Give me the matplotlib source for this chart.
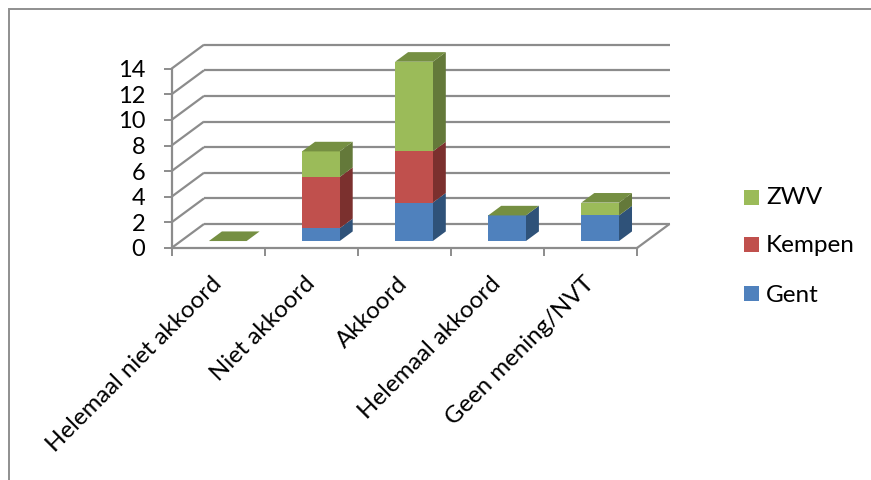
import matplotlib
matplotlib.use("Agg")
import matplotlib.pyplot as plt
from matplotlib.patches import Polygon, Rectangle
from matplotlib.transforms import ScaledTranslation

categories = ["Helemaal niet akkoord", "Niet akkoord", "Akkoord", "Helemaal akkoord", "Geen mening/NVT"]
gent = [0, 1, 3, 2, 2]
kempen = [0, 4, 4, 0, 0]
zwv = [0, 2, 7, 0, 1]
series_names = ["Gent", "Kempen", "ZWV"]
y_ticks = [0, 2, 4, 6, 8, 10, 12, 14]

W, H = 871, 480
X0, X1, Y0, Y14 = 171.5, 637.0, 248.0, 68.7

plt.rcParams["font.family"] = ["Lato", "DejaVu Sans"]
fig = plt.figure(figsize=(W / 100, H / 100), dpi=100)
ax = fig.add_axes([X0 / W, 1 - Y0 / H, (X1 - X0) / W, (Y0 - Y14) / H])
ax.set_xlim(0, 5)
ax.set_ylim(0, 14)
ax.patch.set_visible(False)

GRID = "#8c8c8c"
# oblique projection: full floor depth expressed in data units
DEPTH_X = 32.5 / ((X1 - X0) / 5)
DEPTH_Y = 24.0 / ((Y0 - Y14) / 14)


def proj(x, y, d):
    return (x + DEPTH_X * d, y + DEPTH_Y * d)


def line(p, q):
    ax.plot([p[0], q[0]], [p[1], q[1]], color=GRID, lw=1.6, clip_on=False,
            solid_capstyle="butt", zorder=1)


# back wall gridlines with their slanted returns on the side wall
for v in y_ticks:
    line(proj(0, v, 0), proj(0, v, 1))
    line(proj(0, v, 1), proj(5, v, 1))
line(proj(5, 0, 0), proj(5, 0, 1))

FRONT = {"Gent": "#4f81bd", "Kempen": "#c0504d", "ZWV": "#9bbb59"}
SIDE = {"Gent": "#2f5279", "Kempen": "#7b302e", "ZWV": "#64793a"}
TOP = "#758f42"
BAR_W = 0.405
D0, D1 = 0.29, 0.69


def add_face(points, color, z):
    ax.add_patch(Polygon(points, closed=True, facecolor=color, edgecolor="none",
                         clip_on=False, zorder=z))


for i in range(len(categories)):
    left = i + 0.5 - BAR_W / 2 + 0.003
    right = i + 0.5 + BAR_W / 2 + 0.003
    base = 0
    for name, values in zip(series_names, (gent, kempen, zwv)):
        top = base + values[i]
        if values[i] > 0:
            add_face([proj(left, base, D0), proj(right, base, D0),
                      proj(right, top, D0), proj(left, top, D0)], FRONT[name], 4)
            add_face([proj(right, base, D0), proj(right, base, D1),
                      proj(right, top, D1), proj(right, top, D0)], SIDE[name], 3)
        base = top
    # the cap takes the colour of the last series, also for an empty stack
    add_face([proj(left, base, D0), proj(right, base, D0),
              proj(right, base, D1), proj(left, base, D1)], TOP, 5)

# axes, ticks and labels
for side in ("top", "right"):
    ax.spines[side].set_visible(False)
for side in ("left", "bottom"):
    ax.spines[side].set_color(GRID)
    ax.spines[side].set_linewidth(1.6)
ax.set_yticks(y_ticks)
ax.set_xticks(range(6))
ax.set_xticklabels([])
ax.set_xticks([i + 0.5 for i in range(5)], minor=True)
ax.set_xticklabels(categories, minor=True, rotation=45, ha="right", va="top",
                   rotation_mode="anchor", fontsize=17.3, color="black")
ax.tick_params(axis="x", which="major", length=6, width=1.4, color=GRID)
ax.tick_params(axis="x", which="minor", length=0, pad=17.8)
ax.tick_params(axis="y", length=6, width=1.4, color=GRID, labelsize=17, pad=13)

nudge = ScaledTranslation(-7 / 100, 0, fig.dpi_scale_trans)
for label in ax.get_xticklabels(minor=True):
    label.set_transform(label.get_transform() + nudge)

# legend, listed top-down in reverse stacking order
for name, sy, ty in zip(("ZWV", "Kempen", "Gent"), (197.5, 245, 293.5), (198, 246, 295)):
    fig.add_artist(Rectangle((744 / W, 1 - (sy + 7.5) / H), 15 / W, 15 / H,
                             transform=fig.transFigure, facecolor=FRONT[name], edgecolor="none"))
    fig.text(766 / W, 1 - ty / H, name, fontsize=17.5, va="center", ha="left", color="black")

# chart frame
fig.add_artist(Rectangle((8.7 / W, -0.02), 1.1, 1 - 8.7 / H + 0.02, transform=fig.transFigure,
                         facecolor="none", edgecolor="#8f8f8f", lw=1.4))

fig.savefig("out.png", dpi=100, facecolor="white")
